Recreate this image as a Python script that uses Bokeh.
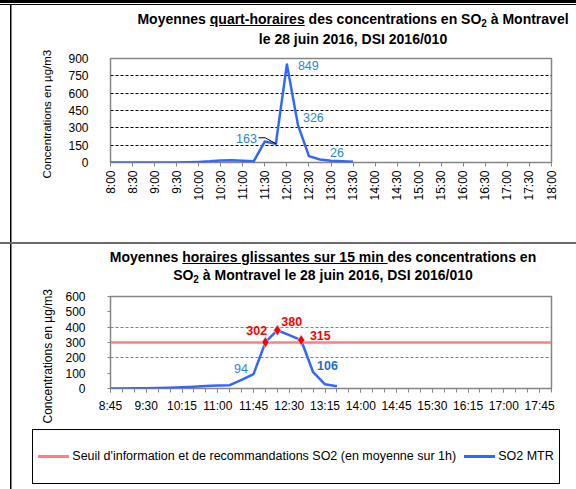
import math
from bokeh.plotting import figure
from bokeh.models import Range1d, FixedTicker, Div, Title
from bokeh.layouts import column
from bokeh.embed import file_html
from bokeh.resources import INLINE
from bokeh.core.properties import value

FONT = "Liberation Sans"
BLUE = "#3366FF"
LBL_BLUE = "#2C87D3"
DARK_BLUE = "#1F70C1"
RED = "#FF0000"
THRESH_COLOR = "#FF8080"
AXIS_GRAY = "#868686"

# ---------------- data: top chart (quarter-hour means) ----------------
top_categories = ["8:00", "8:15", "8:30", "8:45", "9:00", "9:15", "9:30", "9:45",
                  "10:00", "10:15", "10:30", "10:45", "11:00", "11:15", "11:30", "11:45",
                  "12:00", "12:15", "12:30", "12:45", "13:00", "13:15", "13:30", "13:45",
                  "14:00", "14:15", "14:30", "14:45", "15:00", "15:15", "15:30", "15:45",
                  "16:00", "16:15", "16:30", "16:45", "17:00", "17:15", "17:30", "17:45",
                  "18:00"]
top_values = [0, 0, 0, 0, 0, 0, 1, 2, 5, 10, 18, 20, 16, 11, 182, 163, 849, 326, 55, 26, 15, 10, 7]
top_y_ticks = [0, 150, 300, 450, 600, 750, 900]
top_grid = [150, 300, 450, 600, 750]
top_labelled = [15, 16, 17, 19]

# ---------------- data: bottom chart (rolling hourly means) ----------------
bot_categories = ["8:45", "9:00", "9:15", "9:30", "9:45", "10:00", "10:15", "10:30",
                  "10:45", "11:00", "11:15", "11:30", "11:45", "12:00", "12:15", "12:30",
                  "12:45", "13:00", "13:15", "13:30", "13:45", "14:00", "14:15", "14:30",
                  "14:45", "15:00", "15:15", "15:30", "15:45", "16:00", "16:15", "16:30",
                  "16:45", "17:00", "17:15", "17:30", "17:45", "18:00"]
bot_values = [0, 0, 1, 2, 3, 5, 8, 12, 17, 20, 22, 56, 94, 302, 380, 348, 315, 106, 27, 15]
bot_y_ticks = [0, 100, 200, 300, 400, 500, 600]
bot_grid = [200, 400]
threshold = 300
bot_labelled_blue = [12, 17]
bot_labelled_red = [13, 14, 16]

# ---------------- texts ----------------
title_top_l1 = ["Moyennes ", "quart-horaires", " des concentrations en SO", "2", " \u00e0 Montravel"]
title_top_l2 = "le 28 juin 2016, DSI 2016/010"
title_bot_l1 = ["Moyennes ", "horaires glissantes sur 15 min ", "des concentrations en"]
title_bot_l2 = ["SO", "2", " \u00e0 Montravel le 28 juin 2016, DSI 2016/010"]
y_label = "Concentrations en \u00b5g/m3"
legend_labels = ["Seuil d'information et de recommandations SO2 (en moyenne sur 1h)", "SO2 MTR"]

W = 576
SUB = '<span style="font-size:10px;position:relative;top:3px;">{}</span>'
TITLE_CSS = ("width:446px;text-align:center;font-family:'Liberation Sans',Arial,sans-serif;"
             "font-weight:bold;font-size:14px;line-height:18px;color:#000;white-space:nowrap;")

html_top = ('<div style="margin-left:130px;padding-top:10px;' + TITLE_CSS + '">'
            + title_top_l1[0] + "<u>" + title_top_l1[1] + "</u>" + title_top_l1[2]
            + SUB.format(title_top_l1[3]) + title_top_l1[4] + "<br>" + title_top_l2 + "</div>")
html_bot = ('<div style="margin-left:100px;padding-top:6px;' + TITLE_CSS + '">'
            + title_bot_l1[0] + "<u>" + title_bot_l1[1] + "</u>" + title_bot_l1[2] + "<br>"
            + title_bot_l2[0] + SUB.format(title_bot_l2[1]) + title_bot_l2[2] + "</div>")

SAMPLE = ('<span style="display:inline-block;width:31px;height:3px;background:{};'
          'margin-left:{}px;margin-right:3px;"></span>')
html_leg = ('<div style="margin-left:32px;width:528px;height:55px;border:1px solid #000;'
            'background:#fff;display:flex;align-items:center;justify-content:center;'
            "font-family:'Liberation Sans',Arial,sans-serif;font-size:12.5px;color:#000;"
            'white-space:nowrap;">'
            + SAMPLE.format(THRESH_COLOR, 0) + "<span>" + legend_labels[0] + "</span>"
            + SAMPLE.format(BLUE, 8) + "<span>" + legend_labels[1] + "</span></div>")


def base_fig(h, xr, yr, bl, br, bt, bb):
    p = figure(width=W, height=h, x_range=xr, y_range=yr, output_backend="svg",
               toolbar_location=None, title=None, min_border_left=bl, min_border_right=br,
               min_border_top=bt, min_border_bottom=bb)
    p.outline_line_color = AXIS_GRAY
    p.outline_line_width = 1.5
    p.background_fill_color = "white"
    p.border_fill_color = None
    return p


def style_axes(p, offset, standoff, size):
    for ax in (p.xaxis[0], p.yaxis[0]):
        ax.axis_line_color = None
        ax.major_tick_line_color = AXIS_GRAY
        ax.minor_tick_line_color = AXIS_GRAY
        ax.major_label_text_font = FONT
        ax.major_label_text_font_size = "12px"
        ax.major_label_text_color = "black"
        ax.major_tick_in = 0
        ax.minor_tick_in = 0
        ax.minor_tick_out = 0
    # y-axis title as a side title so that it can sit slightly lower than the frame centre
    p.add_layout(Title(text=y_label, align="left", offset=offset, standoff=standoff,
                       text_font=FONT, text_font_size=size, text_font_style="normal",
                       text_color="black"), "left")


def put_label(p, x, y, text, dx, dy, align, color, bold=False):
    p.text(x=[x], y=[y], text=[text], x_offset=dx, y_offset=dy, text_align=align,
           text_baseline="middle", text_color=color, text_font=value(FONT),
           text_font_size="12.5px", text_font_style="bold" if bold else "normal")


# ======================= TOP CHART =======================
div_top = Div(text=html_top, width=W, height=46, margin=0)

top = base_fig(196, Range1d(0, len(top_categories) - 1), Range1d(top_y_ticks[0], top_y_ticks[-1]),
               110, 25, 12, 80)
style_axes(top, -16, 25, "11.5px")
top.xaxis.ticker = FixedTicker(ticks=list(range(0, len(top_categories), 2)))
top.xaxis.major_label_overrides = {i: c for i, c in enumerate(top_categories)}
top.xaxis.major_label_orientation = math.pi / 2
top.xaxis.major_tick_out = 4
top.xaxis.major_label_standoff = 4
top.yaxis.ticker = FixedTicker(ticks=top_y_ticks)
top.yaxis.major_tick_out = 0
top.yaxis.major_label_standoff = 22
top.xgrid.visible = False
top.ygrid.ticker = FixedTicker(ticks=top_grid)
top.ygrid.grid_line_color = "black"
top.ygrid.grid_line_dash = "3 2"
top.ygrid.grid_line_width = 1

top_x = list(range(len(top_values)))
top.line(top_x, top_values, line_color=BLUE, line_width=2.5, line_join="round")

top_offsets = {15: (-19, -5, "right"), 16: (11, 1, "left"), 17: (5, -7.5, "left"), 19: (10, -6.5, "left")}
for i in top_labelled:
    dx, dy, al = top_offsets[i]
    put_label(top, top_x[i], top_values[i], str(top_values[i]), dx, dy, al, LBL_BLUE)
# leader line of the "163" label
li = top_labelled[0]
top.line([li - 1.58, li - 0.97, li], [top_values[li] + 51, top_values[li] + 51, top_values[li]],
         line_color="black", line_width=1)

# ======================= BOTTOM CHART =======================
div_bot = Div(text=html_bot, width=W, height=46, margin=0,
              styles={"box-shadow": "inset 0 2px 0 #6a6a6a"})

bot = base_fig(141, Range1d(0, len(bot_categories) - 1), Range1d(bot_y_ticks[0], bot_y_ticks[-1]),
               110, 25, 8, 41)
style_axes(bot, -35, 16, "12px")
bot.xaxis.ticker = FixedTicker(ticks=list(range(0, len(bot_categories) - 1, 3)),
                               minor_ticks=list(range(len(bot_categories))))
bot.xaxis.major_label_overrides = {i: c for i, c in enumerate(bot_categories)}
bot.xaxis.major_tick_out = 4
bot.xaxis.minor_tick_out = 4
bot.xaxis.major_label_standoff = 6
bot.yaxis.ticker = FixedTicker(ticks=bot_y_ticks)
bot.yaxis.major_tick_out = 3
bot.yaxis.major_label_standoff = 22
bot.xgrid.visible = False
bot.ygrid.ticker = FixedTicker(ticks=bot_grid)
bot.ygrid.grid_line_color = "#808080"
bot.ygrid.grid_line_dash = "3 2"
bot.ygrid.grid_line_width = 1

bot.line([0, len(bot_categories) - 1], [threshold, threshold],
         line_color=THRESH_COLOR, line_width=2.5)
bot_x = list(range(len(bot_values)))
bot.line(bot_x, bot_values, line_color=BLUE, line_width=2.5, line_join="round")
bot.scatter([bot_x[i] for i in bot_labelled_red], [bot_values[i] for i in bot_labelled_red],
            marker="diamond", size=11, fill_color=RED, line_color="#C9D7F5", line_width=0.8)

bot_offsets = {12: (-5.5, -5.5, "right", LBL_BLUE, False),
               17: (4, -7, "left", DARK_BLUE, True),
               13: (1.7, -12, "right", RED, True),
               14: (4, -8.7, "left", RED, True),
               16: (8.7, -5, "left", RED, True)}
for i in bot_labelled_blue + bot_labelled_red:
    dx, dy, al, col, b = bot_offsets[i]
    put_label(bot, bot_x[i], bot_values[i], str(bot_values[i]), dx, dy, al, col, b)

# ======================= LEGEND =======================
div_leg = Div(text=html_leg, width=W, height=60, margin=0)

frame_css = ("inset 0 3px 0 #000, inset 0 4px 0 #fff, inset 0 5px 0 #000, "
             "inset 10px 0 0 #fff, inset 11.5px 0 0 #000")
layout = column(div_top, top, div_bot, bot, div_leg, spacing=0, styles={"box-shadow": frame_css})
open("out.html", "w").write(file_html(layout, INLINE))
